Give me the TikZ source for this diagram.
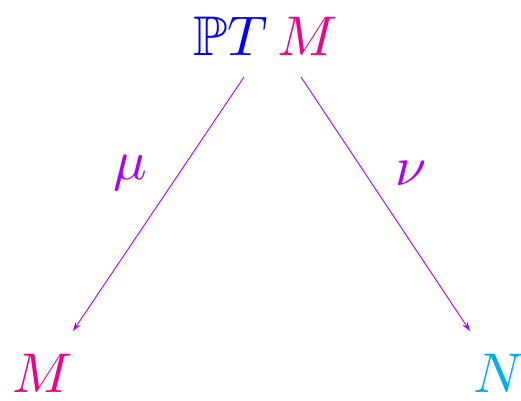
\documentclass[tikz,border=0pt]{standalone}
\usepackage{amssymb}
\usetikzlibrary{arrows.meta}
\definecolor{pinkM}{RGB}{236,0,140}
\definecolor{cyanN}{RGB}{0,174,239}
\definecolor{violetA}{RGB}{170,0,255}
\begin{document}
\begin{tikzpicture}[x=1pt,y=-1pt,
  lbl/.style={inner sep=0pt,scale=5.6},
  arr/.style={draw=violetA,line width=0.9pt,-{Stealth[length=9pt,width=6pt]}}]
\useasboundingbox (0,0) rectangle (521,400);
\node[lbl,anchor=base] (top) at (266,55) {$\color{blue}\mathbb{P}T\,\color{pinkM}M$};
\node[lbl,anchor=base west] (m) at (11,392) {$\color{pinkM}M$};
\node[lbl,anchor=base west] (n) at (472,392) {$\color{cyanN}N$};
\coordinate (s1) at (244,77);
\coordinate (e1) at (73,331);
\coordinate (s2) at (301,77);
\coordinate (e2) at (470,331);
\draw[arr] (s1) -- (e1);
\draw[arr] (s2) -- (e2);
\node[lbl,text=violetA] (mu) at (130,173) {$\mu$};
\node[lbl,text=violetA] (nu) at (411,173) {$\nu$};
\end{tikzpicture}
\end{document}
